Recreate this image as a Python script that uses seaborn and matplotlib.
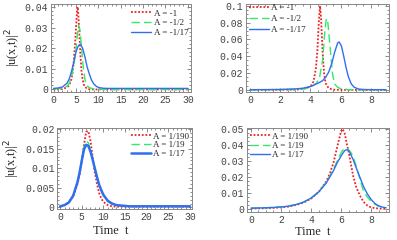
import pandas as pd
import seaborn as sns
import matplotlib.pyplot as plt
from matplotlib.ticker import FixedLocator, MultipleLocator

# ---- data ----
# top left panel (A < 0, long time window)
tl_t_red = [0, 1, 2, 3, 3.5, 4, 4.25, 4.5, 4.75, 5, 5.25, 5.4, 5.5, 5.75, 6, 6.25, 6.5, 6.75, 7, 7.5, 8, 9, 30]
tl_y_red = [0, 0, 0.0002, 0.001, 0.002, 0.005, 0.008, 0.013, 0.02, 0.029, 0.038, 0.04, 0.038, 0.028, 0.017,
            0.009, 0.005, 0.0025, 0.0013, 0.0004, 0.0001, 0, 0]
tl_t_green = [0, 2, 3, 3.5, 4, 4.5, 5, 5.3, 5.6, 5.9, 6.2, 6.5, 6.8, 7.1, 7.5, 8, 9, 10, 12, 30]
tl_y_green = [0.0002, 0.0005, 0.0015, 0.003, 0.006, 0.011, 0.019, 0.026, 0.031, 0.029, 0.022, 0.014, 0.008,
              0.004, 0.0018, 0.0008, 0.0003, 0.0001, 0, 0]
tl_t_blue = [0, 1, 2, 3, 3.5, 4, 4.5, 5, 5.5, 6, 6.5, 7, 7.5, 8, 8.5, 9, 9.5, 10, 11, 12, 20, 30]
tl_y_blue = [0.0005, 0.0007, 0.0012, 0.003, 0.005, 0.0085, 0.013, 0.018, 0.021, 0.022, 0.02, 0.016, 0.011,
             0.0075, 0.0045, 0.0027, 0.0016, 0.001, 0.0006, 0.0005, 0.0005, 0.0005]

# top right panel (A < 0, short time window)
tr_t_red = [0, 3, 3.5, 4, 4.2, 4.35, 4.45, 4.55, 4.63, 4.7, 4.8, 4.9, 5, 5.2, 5.5, 6, 9]
tr_y_red = [0, 0.0003, 0.001, 0.004, 0.01, 0.025, 0.045, 0.08, 0.1, 0.085, 0.045, 0.02, 0.008, 0.002,
            0.0003, 0, 0]
tr_t_green = [0, 3, 3.5, 4, 4.4, 4.6, 4.8, 4.95, 5.05, 5.15, 5.3, 5.45, 5.6, 5.8, 6, 6.5, 7, 9]
tr_y_green = [0, 0.0005, 0.001, 0.003, 0.008, 0.015, 0.035, 0.07, 0.085, 0.08, 0.05, 0.02, 0.007, 0.003,
              0.0015, 0.0003, 0, 0]
tr_t_blue = [0, 1, 2, 3, 3.5, 4, 4.5, 4.8, 5, 5.2, 5.4, 5.6, 5.8, 5.9, 6.05, 6.2, 6.35, 6.5, 6.7, 6.9,
             7.2, 7.5, 8, 9]
tr_y_blue = [0.0003, 0.0003, 0.0005, 0.0012, 0.002, 0.004, 0.008, 0.011, 0.015, 0.021, 0.031, 0.045, 0.056,
             0.057, 0.052, 0.04, 0.027, 0.016, 0.007, 0.003, 0.001, 0.0005, 0.0003, 0.0003]

# bottom left panel (A > 0, long time window)
bl_t = [0, 1, 2, 3, 4, 4.5, 5, 5.5, 6, 6.5, 7, 7.5, 8, 8.5, 9, 9.5, 10, 11, 12, 13, 15, 16, 30]
bl_y_red = [0.0003, 0.0006, 0.0012, 0.0028, 0.006, 0.0085, 0.012, 0.016, 0.0193, 0.0195, 0.017, 0.013,
            0.009, 0.006, 0.0037, 0.0023, 0.0014, 0.0006, 0.0003, 0.0002, 0.0002, 0.0002, 0.0002]
bl_y_green = [0.0003, 0.0006, 0.0013, 0.003, 0.0065, 0.009, 0.0125, 0.0155, 0.017, 0.0165, 0.015, 0.0125,
              0.01, 0.0075, 0.0055, 0.0042, 0.003, 0.0015, 0.0008, 0.0005, 0.0003, 0.0003, 0.0003]
bl_y_blue = [0.0003, 0.0006, 0.0013, 0.003, 0.0065, 0.009, 0.012, 0.0148, 0.016, 0.0157, 0.0143, 0.0122,
             0.01, 0.0078, 0.0058, 0.0044, 0.0032, 0.0017, 0.001, 0.0006, 0.0004, 0.0003, 0.0003]

# bottom right panel (A > 0, short time window)
br_t = [0, 1, 1.5, 2, 2.5, 3, 3.5, 4, 4.5, 5, 5.25, 5.5, 5.75, 6, 6.1, 6.25, 6.4, 6.5, 6.6, 6.8, 7, 7.25,
        7.5, 7.75, 8, 8.25, 8.5, 8.75, 9]
br_y_red = [0.0003, 0.0005, 0.0007, 0.001, 0.0015, 0.0025, 0.004, 0.0065, 0.0105, 0.017, 0.022, 0.029,
            0.039, 0.0485, 0.05, 0.047, 0.04, 0.036, 0.031, 0.021, 0.014, 0.0085, 0.0045, 0.0022, 0.001,
            0.0006, 0.0003, 0.0002, 0.0001]
br_y_green = [0.0005, 0.0008, 0.001, 0.0013, 0.0018, 0.0028, 0.0043, 0.0068, 0.0108, 0.0165, 0.0205, 0.025,
              0.03, 0.035, 0.0365, 0.038, 0.0375, 0.037, 0.036, 0.033, 0.027, 0.019, 0.011, 0.0075, 0.005,
              0.003, 0.0018, 0.0012, 0.0008]
br_y_blue = [0.0005, 0.0008, 0.001, 0.0013, 0.0018, 0.0028, 0.0043, 0.0068, 0.0105, 0.016, 0.02, 0.024,
             0.029, 0.033, 0.0345, 0.0365, 0.037, 0.0365, 0.035, 0.031, 0.026, 0.02, 0.014, 0.0095, 0.006,
             0.0035, 0.002, 0.0012, 0.0008]

neg_labels = ["A = -1", "A = -1/2", "A = -1/17"]
pos_labels = ["A = 1/190", "A = 1/19", "A = 1/17"]

RED, GREEN, BLUE = "#ee2222", "#33e86a", "#2f6ff0"

sns.set_style("ticks")
plt.rcParams["font.family"] = ["Liberation Serif", "DejaVu Serif"]

fig = plt.figure(figsize=(3.97, 2.40), dpi=100)
ax_tl = fig.add_axes([0.128, 0.617, 0.353, 0.367])
ax_tr = fig.add_axes([0.620, 0.617, 0.360, 0.367])
ax_bl = fig.add_axes([0.144, 0.129, 0.340, 0.338])
ax_br = fig.add_axes([0.622, 0.117, 0.358, 0.350])


def draw(ax, curves, labels, blue_lw=1.0):
    styles = [(RED, (0, (1, 1)), 1.3), (GREEN, (0, (6, 3)), 1.0), (BLUE, "-", blue_lw)]
    for (t, y), lab, (c, ls, lw) in zip(curves, labels, styles):
        df = pd.DataFrame({"t": t, "y": y})
        sns.lineplot(data=df, x="t", y="y", ax=ax, color=c, linestyle=ls, linewidth=lw,
                     label=lab, estimator=None, sort=False)


def style(ax, xlim, ylim, xmaj, xmin, yticks, ylabels, ymin):
    ax.set_xlim(*xlim)
    ax.set_ylim(*ylim)
    ax.xaxis.set_major_locator(MultipleLocator(xmaj))
    ax.xaxis.set_minor_locator(MultipleLocator(xmin))
    ax.yaxis.set_major_locator(FixedLocator(yticks))
    ax.set_yticklabels(ylabels)
    ax.yaxis.set_minor_locator(MultipleLocator(ymin))
    ax.tick_params(which="both", direction="in", top=True, right=True, colors="#777777",
                   labelcolor="#444444", width=0.6)
    ax.tick_params(which="major", length=3, pad=2)
    ax.tick_params(which="minor", length=1.5)
    for lab in ax.get_xticklabels() + ax.get_yticklabels():
        lab.set_family("Liberation Mono")
        lab.set_fontsize(7)
    for sp in ax.spines.values():
        sp.set_color("#888888")
        sp.set_linewidth(0.7)
    ax.set_xlabel("")
    ax.set_ylabel("")


draw(ax_tl, [(tl_t_red, tl_y_red), (tl_t_green, tl_y_green), (tl_t_blue, tl_y_blue)], neg_labels)
draw(ax_tr, [(tr_t_red, tr_y_red), (tr_t_green, tr_y_green), (tr_t_blue, tr_y_blue)], neg_labels)
draw(ax_bl, [(bl_t, bl_y_red), (bl_t, bl_y_green), (bl_t, bl_y_blue)], pos_labels, blue_lw=1.8)
draw(ax_br, [(br_t, br_y_red), (br_t, br_y_green), (br_t, br_y_blue)], pos_labels)

style(ax_tl, (-0.6, 30.7), (-0.0012, 0.0415), 5, 1,
      [0, 0.01, 0.02, 0.03, 0.04], ["0", "0.01", "0.02", "0.03", "0.04"], 0.002)
style(ax_tr, (-0.26, 9.2), (-0.0024, 0.1024), 2, 0.5,
      [0, 0.02, 0.04, 0.06, 0.08, 0.1], ["0", "0.02", "0.04", "0.06", "0.08", "0.1"], 0.005)
style(ax_bl, (-0.7, 30.5), (-0.0004, 0.0203), 5, 1,
      [0, 0.005, 0.01, 0.015, 0.02], ["0", "0.005", "0.01", "0.015", "0.02"], 0.001)
style(ax_br, (-0.27, 9.2), (-0.0018, 0.0506), 2, 0.5,
      [0, 0.01, 0.02, 0.03, 0.04, 0.05], ["0", "0.01", "0.02", "0.03", "0.04", "0.05"], 0.0025)

leg_kw = dict(frameon=False, fontsize=6.5, handlelength=2.2, handletextpad=0.3,
              borderpad=0.1, borderaxespad=0.2)
ax_tl.legend(loc="upper right", bbox_to_anchor=(1.0, 0.97), labelspacing=0.15, **leg_kw)
ax_tr.legend(loc="upper left", bbox_to_anchor=(0.0, 1.03), labelspacing=0.3, **leg_kw)
ax_bl.legend(loc="upper right", bbox_to_anchor=(1.0, 0.98), labelspacing=0.05, **leg_kw)
ax_br.legend(loc="upper left", bbox_to_anchor=(0.0, 0.98), labelspacing=0.1, **leg_kw)

ax_tl.set_ylabel("|u(x,t)|$^2$", fontsize=9)
ax_tl.yaxis.set_label_coords(-0.2, 0.5)
ax_bl.set_ylabel("|u(x,t)|$^2$", fontsize=9)
ax_bl.yaxis.set_label_coords(-0.26, 0.62)
ax_bl.set_xlabel("Time  t", fontsize=9)
ax_bl.xaxis.set_label_coords(0.4, -0.2)
ax_br.set_xlabel("Time  t", fontsize=9)
ax_br.xaxis.set_label_coords(0.46, -0.17)

fig.savefig("out.png", dpi=100)
